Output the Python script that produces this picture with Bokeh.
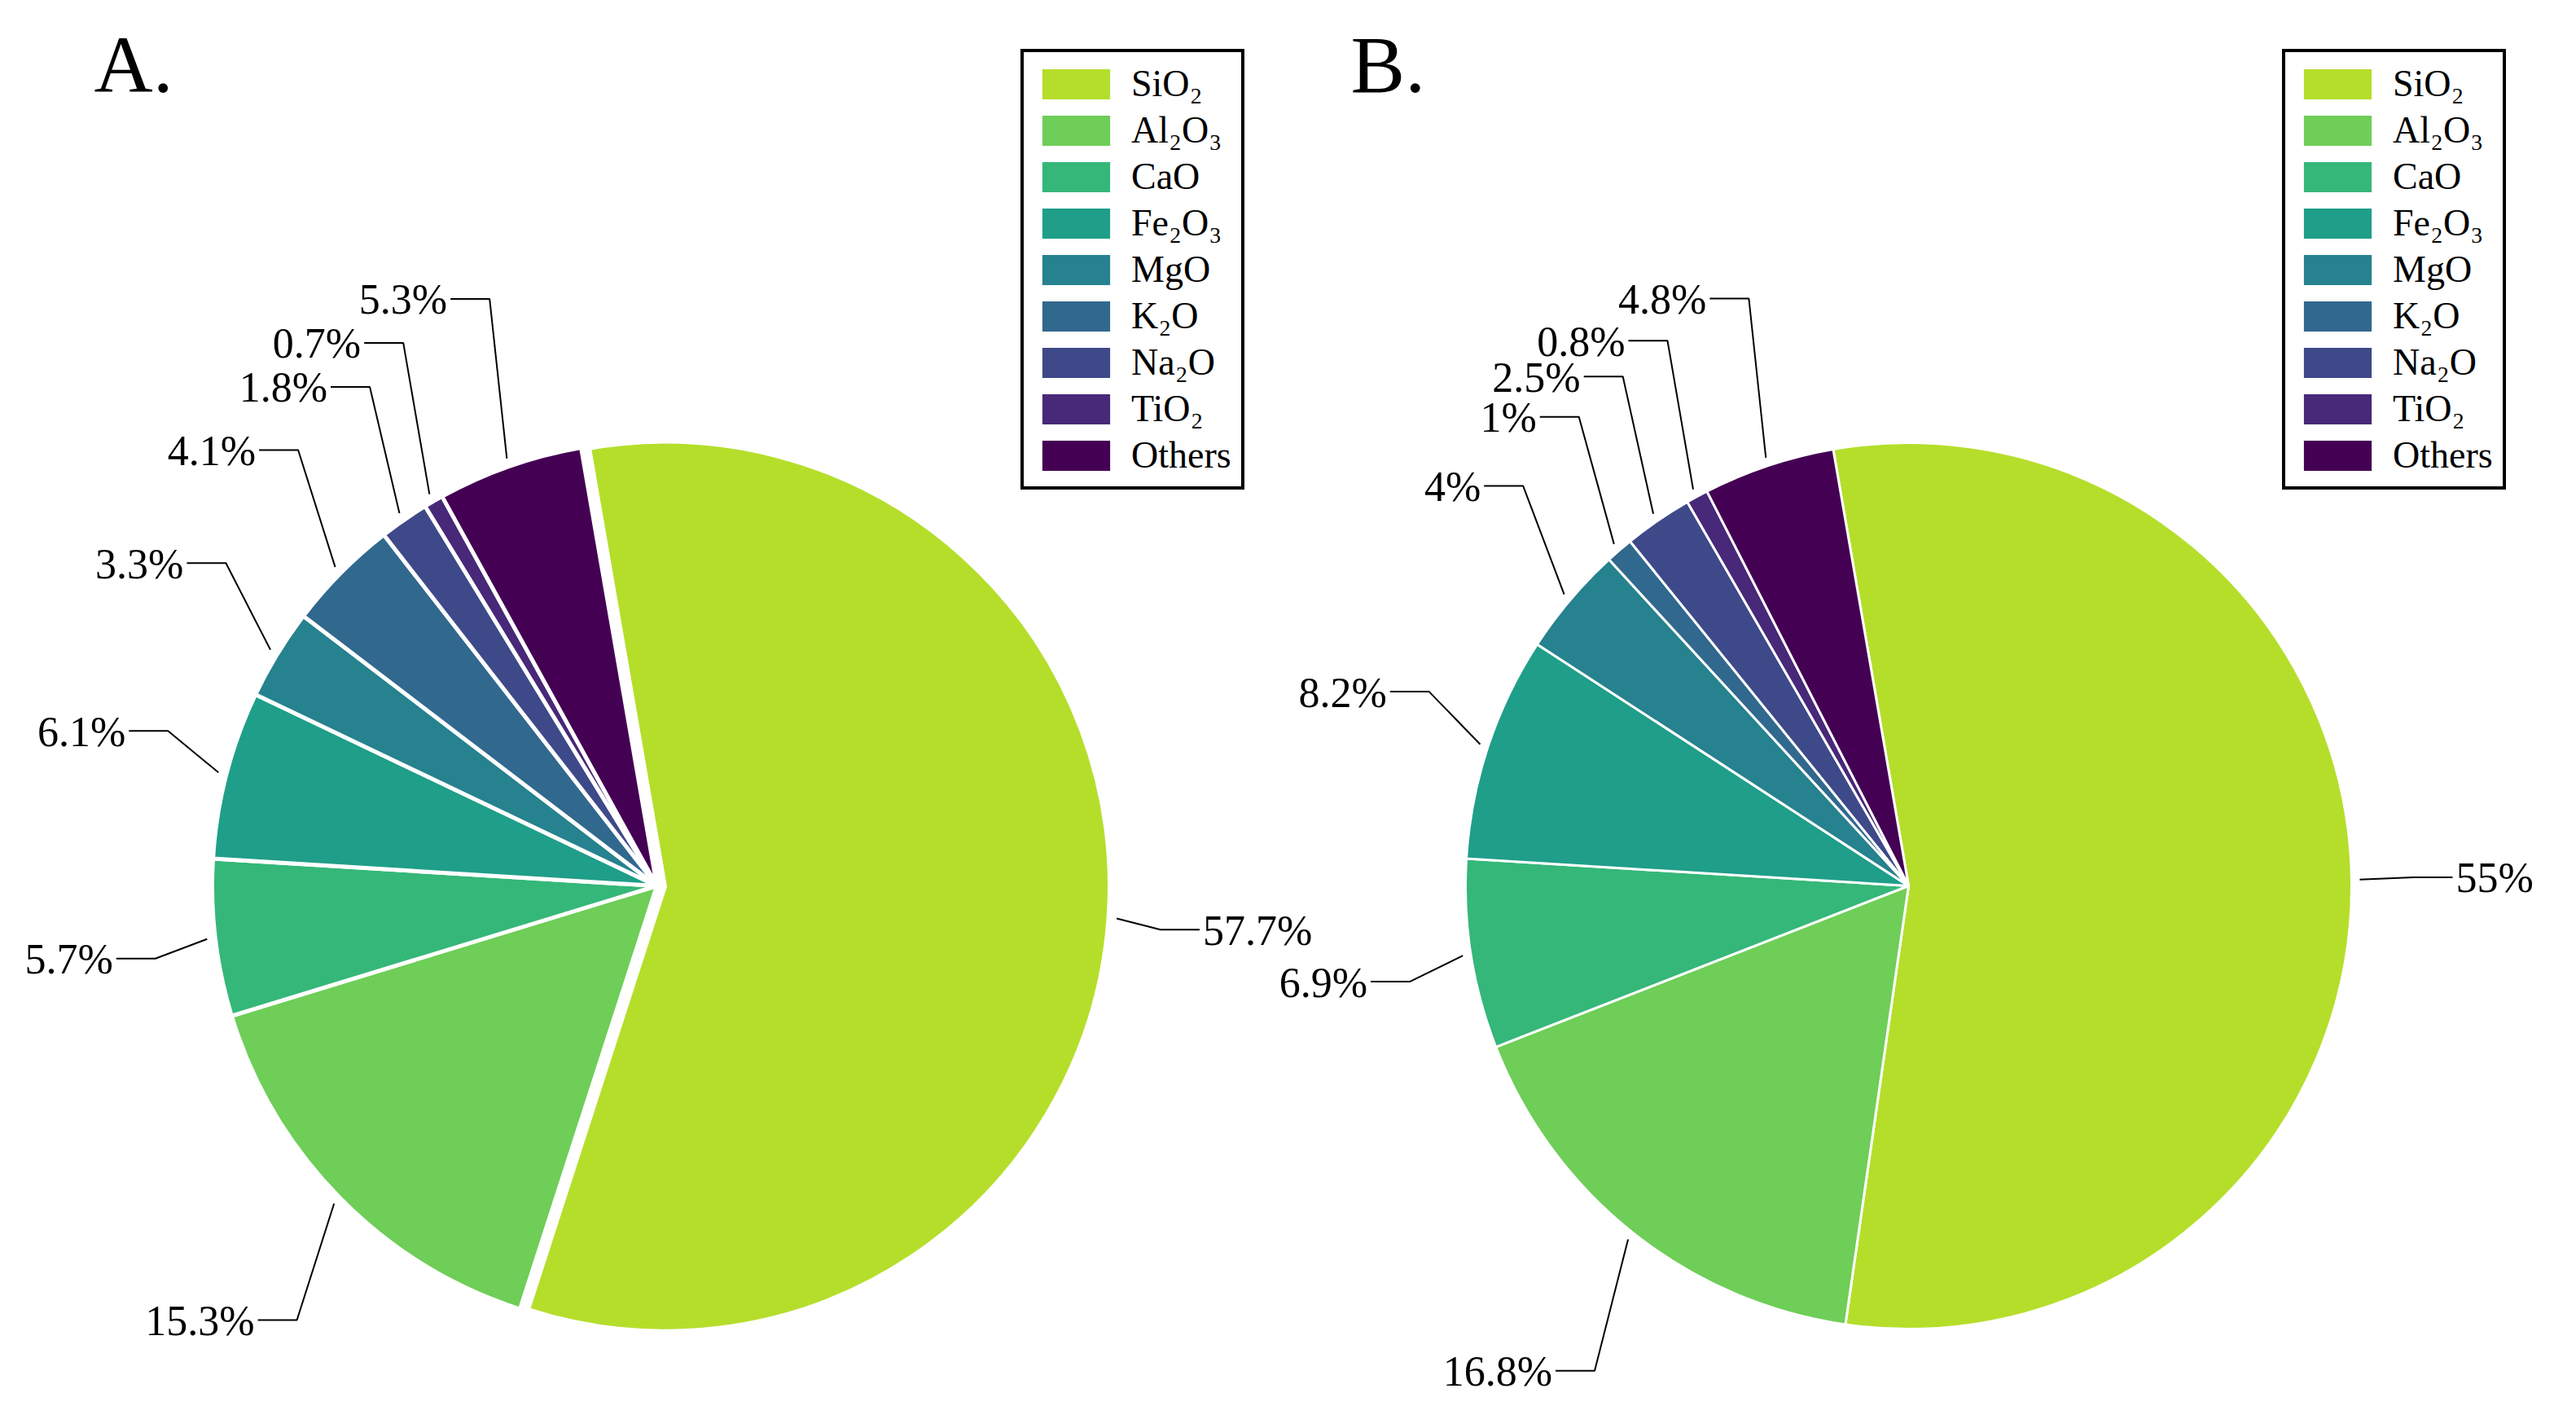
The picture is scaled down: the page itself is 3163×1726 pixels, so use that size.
import math
from bokeh.plotting import figure
from bokeh.models import ColumnDataSource, Legend, LegendItem, Range1d, Label
from bokeh.embed import file_html
from bokeh.resources import INLINE

# ---------------- data ----------------
categories = ["SiO₂", "Al₂O₃", "CaO", "Fe₂O₃", "MgO", "K₂O", "Na₂O", "TiO₂", "Others"]
values_a = [57.7, 15.3, 5.7, 6.1, 3.3, 4.1, 1.8, 0.7, 5.3]
values_b = [55, 16.8, 6.9, 8.2, 4, 1, 2.5, 0.8, 4.8]
panel_titles = ["A.", "B."]
colors = ["#b5de2b", "#6ece58", "#35b779", "#1f9e89", "#26828e",
          "#31688e", "#3e4989", "#482878", "#440154"]

# ---------------- layout ----------------
W, H = 3163, 1726
FONT = "Liberation Serif"

p = figure(width=W, height=H, x_range=Range1d(0, W), y_range=Range1d(0, H),
           output_backend="svg", toolbar_location=None, min_border=0,
           x_axis_location=None, y_axis_location=None, outline_line_color=None,
           background_fill_color="white", border_fill_color="white")
p.grid.visible = False


def spread(ys, gap):
    """push label y's apart to keep a minimum vertical gap"""
    ys = list(ys)
    for _ in range(300):
        moved = False
        order = sorted(range(len(ys)), key=lambda i: ys[i])
        for a, b in zip(order[:-1], order[1:]):
            d = ys[b] - ys[a]
            if d < gap:
                m = (gap - d) / 2
                ys[a] -= m
                ys[b] += m
                moved = True
        if not moved:
            break
    return ys


def draw_pie(values, cx, cy_screen, R, border, explode, legend_x, title, title_x, gap):
    cy = H - cy_screen
    start = 99.8
    total = float(sum(values))
    starts, ends, mids, xs, ys = [], [], [], [], []
    acc = 0.0
    for i, v in enumerate(values):
        a0 = start - acc / total * 360.0
        a1 = start - (acc + v) / total * 360.0
        acc += v
        mid = (a0 + a1) / 2
        starts.append(math.radians(a1))
        ends.append(math.radians(a0))
        mids.append(mid)
        off = explode if i == 0 else 0.0
        xs.append(cx + off * math.cos(math.radians(mid)))
        ys.append(cy + off * math.sin(math.radians(mid)))

    src = ColumnDataSource(dict(x=xs, y=ys, start=starts, end=ends,
                                color=colors, name=categories))
    p.wedge(x="x", y="y", radius=R, start_angle="start", end_angle="end",
            fill_color="color", line_color="white", line_width=border, source=src)
    # legend proxy (no outline)
    proxy = p.wedge(x="x", y="y", radius=0, start_angle="start", end_angle="end",
                    fill_color="color", line_alpha=0, source=src)

    # ---- leader lines & labels ----
    rx, ry = 620.0, 760.0
    seg = 48.0
    sx, sy, bx, by, side = [], [], [], [], []
    for i, m in enumerate(mids):
        t = math.radians(m)
        sx.append(xs[i] + (R + 10) * math.cos(t))
        sy.append(ys[i] + (R + 10) * math.sin(t))
        bx.append(cx + rx * math.cos(t))
        by.append(cy + ry * math.sin(t))
        side.append(1 if math.cos(t) >= 0 else -1)
    for s in (1, -1):
        idx = [i for i in range(len(values)) if side[i] == s]
        new = spread([by[i] for i in idx], gap)
        for k, i in enumerate(idx):
            by[i] = new[k]
    lx, ly, tx, ty, tt, ta = [], [], [], [], [], []
    for i in range(len(values)):
        ex = bx[i] + side[i] * seg
        lx.append([sx[i], bx[i], ex])
        ly.append([sy[i], by[i], by[i]])
        tx.append(ex + side[i] * 4)
        ty.append(by[i] - 1)
        tt.append(f"{values[i]:g}%")
        ta.append("left" if side[i] > 0 else "right")
    p.multi_line(xs=lx, ys=ly, line_color="black", line_width=2)
    p.text(x=tx, y=ty, text=tt, text_align=ta, text_baseline="middle",
           text_font=FONT, text_font_size="52px", text_color="black")

    # ---- legend ----
    items = [LegendItem(label=categories[i], renderers=[proxy], index=i)
             for i in range(len(categories))]
    leg = Legend(items=items, location=(legend_x, H - 601),
                 border_line_color="black", border_line_width=4,
                 border_line_alpha=1.0,
                 background_fill_color="white", background_fill_alpha=1,
                 glyph_width=104, glyph_height=46, label_height=46,
                 spacing=4, padding=12, margin=0, label_standoff=16,
                 label_text_font=FONT, label_text_font_size="46px",
                 label_text_color="black")
    p.add_layout(leg, "center")

    p.add_layout(Label(x=title_x, y=H - 79, text=title, text_font=FONT,
                       text_font_size="100px", text_color="black",
                       text_baseline="alphabetic"))


draw_pie(values_a, 806, 1087, 546, 5, 10, 1253, panel_titles[0], 115, 54)
draw_pie(values_b, 2343, 1087, 544, 3, 0, 2802, panel_titles[1], 1658, 44)

open("out.html", "w").write(file_html(p, INLINE))
